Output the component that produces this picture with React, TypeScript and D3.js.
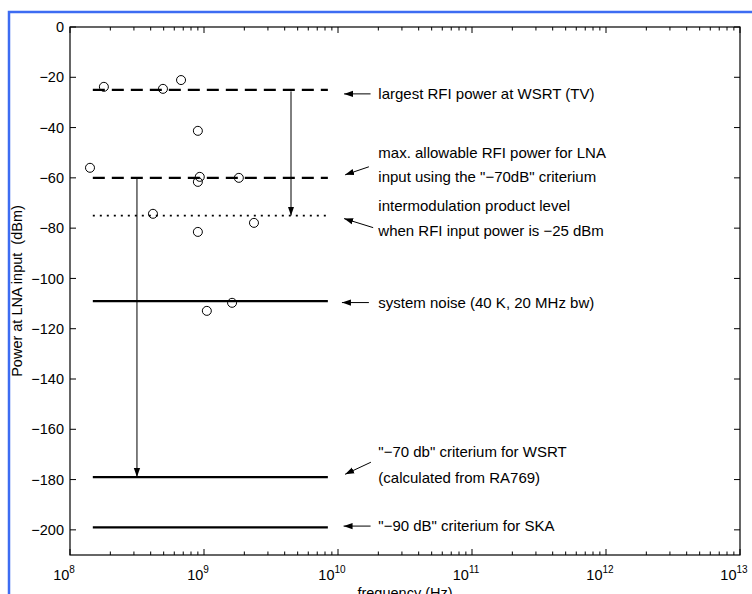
import React, { useRef, useEffect } from "react";
import * as d3 from "d3";

// measured RFI sources (frequency in Hz, power in dBm)
const rfiFreq = [1.41e8, 1.79e8, 4.94e8, 6.74e8, 9.0e8, 9.3e8, 9.0e8, 1.82e9, 4.16e8, 2.36e9, 9.0e8, 1.05e9, 1.62e9];
const rfiPower = [-56, -23.8, -24.6, -21.1, -41.3, -59.6, -61.6, -60.0, -74.3, -77.9, -81.5, -112.9, -109.7];

// horizontal reference levels
const levelValues = [-25, -60, -75, -109, -179, -199];
const levelStyles = ["dashed", "dashed", "dotted", "solid", "solid", "solid"];
const levelStart = 1.48e8;
const levelEnd = 8.4e9;

// vertical arrows: [freq, from, to]
const dropArrows = [
  [4.46e9, -25.6, -75],
  [3.16e8, -60, -179],
];

// annotation texts and their arrows
const noteLines = [
  ["largest RFI power at WSRT (TV)"],
  ["max. allowable RFI power for LNA", "input using the \"\u221270dB\" criterium"],
  ["intermodulation product level", "when RFI input power is \u221225 dBm"],
  ["system noise (40 K, 20 MHz bw)"],
  ["\"\u221270 db\" criterium for WSRT", "(calculated from RA769)"],
  ["\"\u221290 dB\" criterium for SKA"],
];
const noteY = [[-26.6], [-50, -59.6], [-71, -81], [-109.6], [-168.8, -179.1], [-198.5]];
const noteFreq = 2e10;
// arrow tail [f, y] -> head [f, y]
const noteArrows = [
  [[1.75e10, -26.6], [1.11e10, -26.6]],
  [[1.7e10, -55.6], [1.13e10, -58.8]],
  [[1.83e10, -79.8], [1.11e10, -76.2]],
  [[1.7e10, -109.6], [1.07e10, -109.6]],
  [[1.76e10, -173.1], [1.13e10, -177.9]],
  [[1.75e10, -198.5], [1.1e10, -198.5]],
];

const yTicks = [0, -20, -40, -60, -80, -100, -120, -140, -160, -180, -200];
const xDecades = [8, 9, 10, 11, 12, 13];

const W = 752;
const H = 594;
const FONT = "'Liberation Sans', Arial, Helvetica, sans-serif";

export default function App() {
  const svgRef = useRef<SVGSVGElement>(null);

  useEffect(() => {
    const svg = d3.select(svgRef.current);
    svg.selectAll("*").remove();

    const left = 70, right = 740, top = 27, bottom = 555;
    const x = d3.scaleLog().domain([1e8, 1e13]).range([left, right]);
    const y = d3.scaleLinear().domain([-210, 0]).range([bottom, top]);

    // blue frame
    svg.append("path")
      .attr("d", `M9,${H} L9,12 L${W},12`)
      .attr("fill", "none")
      .attr("stroke", "#3d6cf2")
      .attr("stroke-width", 2.5);

    svg.append("defs").append("marker")
      .attr("id", "head")
      .attr("viewBox", "0 0 10 10")
      .attr("refX", 10).attr("refY", 5)
      .attr("markerWidth", 9).attr("markerHeight", 9)
      .attr("markerUnits", "userSpaceOnUse")
      .attr("orient", "auto")
      .append("path").attr("d", "M0,1.5 L10,5 L0,8.5 Z").attr("fill", "#000");

    const g = svg.append("g");

    // box
    g.append("rect")
      .attr("x", left).attr("y", top)
      .attr("width", right - left).attr("height", bottom - top)
      .attr("fill", "none").attr("stroke", "#000").attr("stroke-width", 1.2);

    // x ticks
    const minor: number[] = [];
    xDecades.slice(0, -1).forEach((e) => {
      for (let k = 2; k <= 9; k++) minor.push(k * Math.pow(10, e));
    });
    const major = xDecades.map((e) => Math.pow(10, e));
    [bottom, top].forEach((yy) => {
      const dir = yy === bottom ? -1 : 1;
      g.selectAll(null).data(minor).enter().append("line")
        .attr("x1", (d) => x(d)).attr("x2", (d) => x(d))
        .attr("y1", yy).attr("y2", yy + dir * 3.5)
        .attr("stroke", "#000").attr("stroke-width", 1);
      g.selectAll(null).data(major).enter().append("line")
        .attr("x1", (d) => x(d)).attr("x2", (d) => x(d))
        .attr("y1", yy).attr("y2", yy + dir * 6)
        .attr("stroke", "#000").attr("stroke-width", 1);
    });

    // x tick labels 10^n
    const xl = g.selectAll(null).data(xDecades).enter().append("text")
      .attr("x", (d) => x(Math.pow(10, d)) - 6)
      .attr("y", bottom + 25)
      .attr("font-family", FONT).attr("font-size", 14.5)
      .attr("text-anchor", "middle");
    xl.append("tspan").text("10");
    xl.append("tspan").attr("dy", -7).attr("font-size", 10).text((d) => d);

    // y ticks
    [left, right].forEach((xx) => {
      const dir = xx === left ? 1 : -1;
      g.selectAll(null).data(yTicks).enter().append("line")
        .attr("x1", xx).attr("x2", xx + dir * 6)
        .attr("y1", (d) => y(d)).attr("y2", (d) => y(d))
        .attr("stroke", "#000").attr("stroke-width", 1);
    });
    g.selectAll(null).data(yTicks).enter().append("text")
      .attr("x", left - 6)
      .attr("y", (d) => y(d))
      .attr("dy", "0.35em")
      .attr("text-anchor", "end")
      .attr("font-family", FONT).attr("font-size", 14.5)
      .text((d) => (d < 0 ? "\u2212" + Math.abs(d) : String(d)));

    // axis labels
    g.append("text")
      .attr("x", (left + right) / 2).attr("y", bottom + 43)
      .attr("text-anchor", "middle")
      .attr("font-family", FONT).attr("font-size", 14.5)
      .text("frequency (Hz)");
    g.append("text")
      .attr("transform", `translate(22,${(top + bottom) / 2}) rotate(-90)`)
      .attr("text-anchor", "middle")
      .attr("font-family", FONT).attr("font-size", 14.5)
      .attr("xml:space", "preserve")
      .text("Power at LNA input  (dBm)");

    // level lines
    const dashFor: Record<string, string | null> = { dashed: "12,7", dotted: "2,5", solid: null };
    g.selectAll(null).data(levelValues).enter().append("line")
      .attr("x1", x(levelStart)).attr("x2", x(levelEnd))
      .attr("y1", (d) => y(d)).attr("y2", (d) => y(d))
      .attr("stroke", "#000")
      .attr("stroke-width", (d, i) => (levelStyles[i] === "dotted" ? 1.8 : 2.2))
      .attr("stroke-dasharray", (d, i) => dashFor[levelStyles[i]]);

    // drop arrows
    g.selectAll(null).data(dropArrows).enter().append("line")
      .attr("x1", (d) => x(d[0])).attr("x2", (d) => x(d[0]))
      .attr("y1", (d) => y(d[1])).attr("y2", (d) => y(d[2]))
      .attr("stroke", "#000").attr("stroke-width", 1)
      .attr("marker-end", "url(#head)");

    // circles
    g.selectAll(null).data(rfiFreq).enter().append("circle")
      .attr("cx", (d) => x(d))
      .attr("cy", (d, i) => y(rfiPower[i]))
      .attr("r", 4.5)
      .attr("fill", "none").attr("stroke", "#000").attr("stroke-width", 1);

    // annotation arrows
    g.selectAll(null).data(noteArrows).enter().append("line")
      .attr("x1", (d) => x(d[0][0])).attr("y1", (d) => y(d[0][1]))
      .attr("x2", (d) => x(d[1][0])).attr("y2", (d) => y(d[1][1]))
      .attr("stroke", "#000").attr("stroke-width", 1)
      .attr("marker-end", "url(#head)");

    // annotation texts
    noteLines.forEach((lines, i) => {
      lines.forEach((t, j) => {
        g.append("text")
          .attr("x", x(noteFreq)).attr("y", y(noteY[i][j]))
          .attr("dy", "0.35em")
          .attr("font-family", FONT).attr("font-size", 15)
          .text(t);
      });
    });
  }, []);

  return (
    <svg
      ref={svgRef}
      width={W}
      height={H}
      style={{ position: "absolute", left: 0, top: 0, background: "#fff" }}
    />
  );
}
